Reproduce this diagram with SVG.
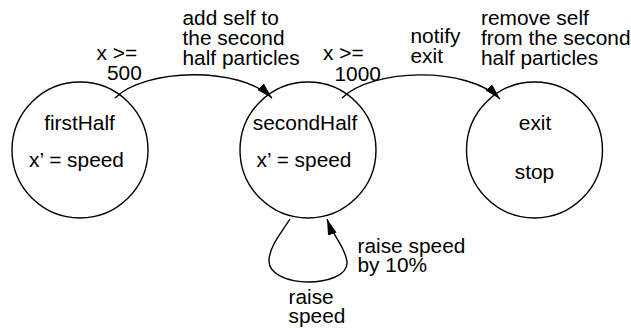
<svg xmlns="http://www.w3.org/2000/svg" width="631" height="328" viewBox="0 0 631 328">
  <style>
    .node { fill: none; stroke: #000; stroke-width: 1.4; }
    .edge { fill: none; stroke: #000; stroke-width: 1.4; marker-end: url(#arrow); }
    text { font-family: "Liberation Sans", Arial, Helvetica, sans-serif; font-size: 19.5px; fill: #000; }
    .c { text-anchor: middle; }
  </style>
  <defs>
    <marker id="arrow" markerUnits="userSpaceOnUse" viewBox="0 0 16 9" refX="16" refY="4.5" markerWidth="16" markerHeight="9" orient="auto">
      <path d="M0,0 L16,4.5 L0,9 z" fill="#000"/>
    </marker>
  </defs>

  <g id="connectors">
    <path class="edge" d="M115,98 C145,68 240,66 272,98"/>
    <path class="edge" d="M342,98 C372,68 468,66 500,99"/>
    <path class="edge" d="M290,219 C282,232 270,245 269,260 C268,275 290,282 308,282 C326,282 348,276 347,262 C346,248 333,236 327,219"/>
    <text transform="translate(96.5,60) scale(1.07,1)">x &gt;=</text>
    <text transform="translate(107,80) scale(1.07,1)">500</text>
    <text transform="translate(182.5,25) scale(1.07,1)"><tspan x="0" y="0">add self to</tspan><tspan x="0" y="20">the second</tspan><tspan x="0" y="40">half particles</tspan></text>
    <text transform="translate(323,60) scale(1.07,1)">x &gt;=</text>
    <text transform="translate(334.5,80.5) scale(1.07,1)">1000</text>
    <text transform="translate(410.5,43) scale(1.07,1)"><tspan x="0" y="0">notify</tspan><tspan x="0" y="20">exit</tspan></text>
    <text transform="translate(481,25) scale(1.07,1)"><tspan x="0" y="0">remove self</tspan><tspan x="0" y="20">from the second</tspan><tspan x="0" y="40">half particles</tspan></text>
    <text transform="translate(357.5,252.5) scale(1.07,1)"><tspan x="0" y="0">raise speed</tspan><tspan x="0" y="19.5">by 10%</tspan></text>
    <text transform="translate(288.5,303.5) scale(1.07,1)"><tspan x="0" y="0">raise</tspan><tspan x="0" y="20">speed</tspan></text>
  </g>

  <g id="firstHalf">
    <circle class="node" cx="80" cy="150" r="68"/>
    <text class="c" transform="translate(79.5,129.5) scale(1.07,1)">firstHalf</text>
    <text class="c" transform="translate(76.5,166.5) scale(1.07,1)">x’ = speed</text>
  </g>

  <g id="secondHalf">
    <circle class="node" cx="308" cy="150" r="68"/>
    <text class="c" transform="translate(305,129.5) scale(1.07,1)">secondHalf</text>
    <text class="c" transform="translate(304,166.5) scale(1.07,1)">x’ = speed</text>
  </g>

  <g id="exit">
    <circle class="node" cx="534.5" cy="150" r="68"/>
    <text class="c" transform="translate(535,129.5) scale(1.07,1)">exit</text>
    <text class="c" transform="translate(534.5,179) scale(1.07,1)">stop</text>
  </g>
</svg>
